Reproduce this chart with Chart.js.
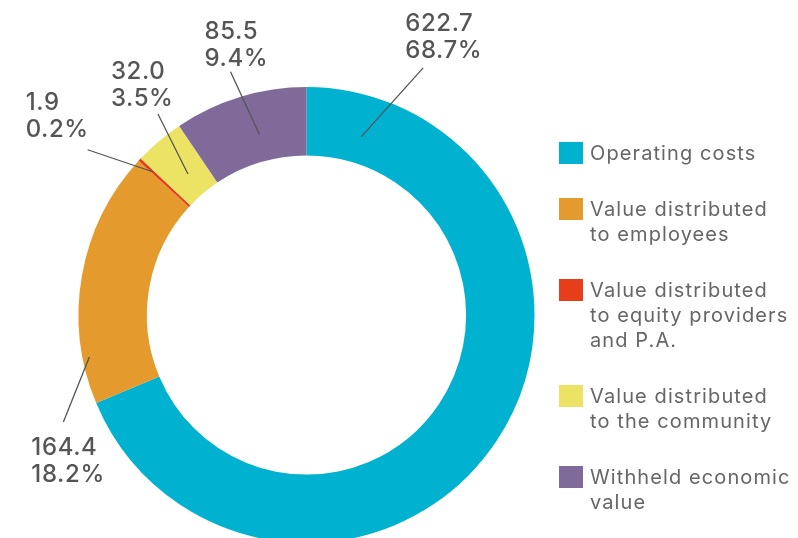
<!DOCTYPE html>
<html>
<head>
<meta charset="utf-8">
<script src="https://cdn.jsdelivr.net/npm/chart.js@4/dist/chart.umd.min.js"></script>
<style>
  html, body { margin: 0; padding: 0; background: #ffffff; }
  #wrap { width: 798px; height: 538px; position: relative; }
</style>
</head>
<body>
<div id="wrap"><canvas id="c" width="798" height="538"></canvas></div>
<script>
// ---- data ----
const categories = [
  ['Operating costs'],
  ['Value distributed', 'to employees'],
  ['Value distributed', 'to equity providers', 'and P.A.'],
  ['Value distributed', 'to the community'],
  ['Withheld economic', 'value']
];
const values = [622.7, 164.4, 1.9, 32.0, 85.5];
const valueLabels = ['622.7', '164.4', '1.9', '32.0', '85.5'];
const percentLabels = ['68.7%', '18.2%', '0.2%', '3.5%', '9.4%'];
const colors = ['#00B2D0', '#E59A2E', '#E63E1A', '#ECE364', '#7F6A9A'];

// ---- label layout (anchor inside slice, leader vector, text offset) ----
const labelLayout = [
  { t: 0.069, f: 0.39, dx: 62,  dy: -69, tx: -18, ty: -37 },
  { t: 0.18,  f: 0.90, dx: -26, dy: 65,  tx: -32, ty: 33 },
  { t: 0.5,   f: 0.74, dx: -65, dy: -22, tx: -62, ty: -40 },
  { t: 0.52,  f: 0.36, dx: -30, dy: -60, tx: -47, ty: -35 },
  { t: 0.57,  f: 0.39, dx: -29, dy: -63, tx: -26, ty: -33 }
];

const labelPlugin = {
  id: 'sliceLabels',
  afterDatasetsDraw(chart) {
    const ctx = chart.ctx;
    const meta = chart.getDatasetMeta(0);
    ctx.save();
    meta.data.forEach((arc, i) => {
      const p = arc.getProps(['x', 'y', 'startAngle', 'endAngle', 'innerRadius', 'outerRadius'], true);
      const L = labelLayout[i];
      const a = p.startAngle + L.t * (p.endAngle - p.startAngle);
      const r = p.innerRadius + L.f * (p.outerRadius - p.innerRadius);
      const x0 = p.x + Math.cos(a) * r;
      const y0 = p.y + Math.sin(a) * r;
      const x1 = x0 + L.dx, y1 = y0 + L.dy;
      ctx.strokeStyle = '#555555';
      ctx.lineWidth = 1.3;
      ctx.beginPath();
      ctx.moveTo(x0, y0);
      ctx.lineTo(x1, y1);
      ctx.stroke();
      ctx.fillStyle = '#555555';
      ctx.font = '500 24px Inter';
      ctx.letterSpacing = '0.6px';
      ctx.textAlign = 'left';
      ctx.textBaseline = 'alphabetic';
      ctx.fillText(valueLabels[i], x1 + L.tx, y1 + L.ty);
      ctx.fillText(percentLabels[i], x1 + L.tx, y1 + L.ty + 27);
    });
    ctx.restore();
  }
};

const legendPlugin = {
  id: 'sideLegend',
  afterDraw(chart) {
    const ctx = chart.ctx;
    ctx.save();
    let y = 142;
    const x = 559;
    categories.forEach((lines, i) => {
      ctx.fillStyle = colors[i];
      ctx.fillRect(x, y, 24, 22);
      ctx.fillStyle = '#666666';
      ctx.font = '20px Inter';
      ctx.letterSpacing = '1.1px';
      ctx.textAlign = 'left';
      ctx.textBaseline = 'alphabetic';
      lines.forEach((ln, j) => {
        ctx.fillText(ln, x + 31, y + 18 + j * 25);
      });
      y += lines.length * 25 + 31;
    });
    ctx.restore();
  }
};

new Chart(document.getElementById('c'), {
  type: 'doughnut',
  data: {
    labels: categories.map(c => c.join(' ')),
    datasets: [{
      data: values,
      backgroundColor: colors,
      borderWidth: 0,
      hoverOffset: 0,
      clip: false
    }]
  },
  options: {
    responsive: false,
    animation: false,
    radius: 228,
    cutout: '70%',
    layout: { padding: { left: 0, right: 185, top: 92, bottom: 0 } },
    plugins: {
      legend: { display: false },
      tooltip: { enabled: false }
    },
    events: []
  },
  plugins: [labelPlugin, legendPlugin]
});
</script>
</body>
</html>
